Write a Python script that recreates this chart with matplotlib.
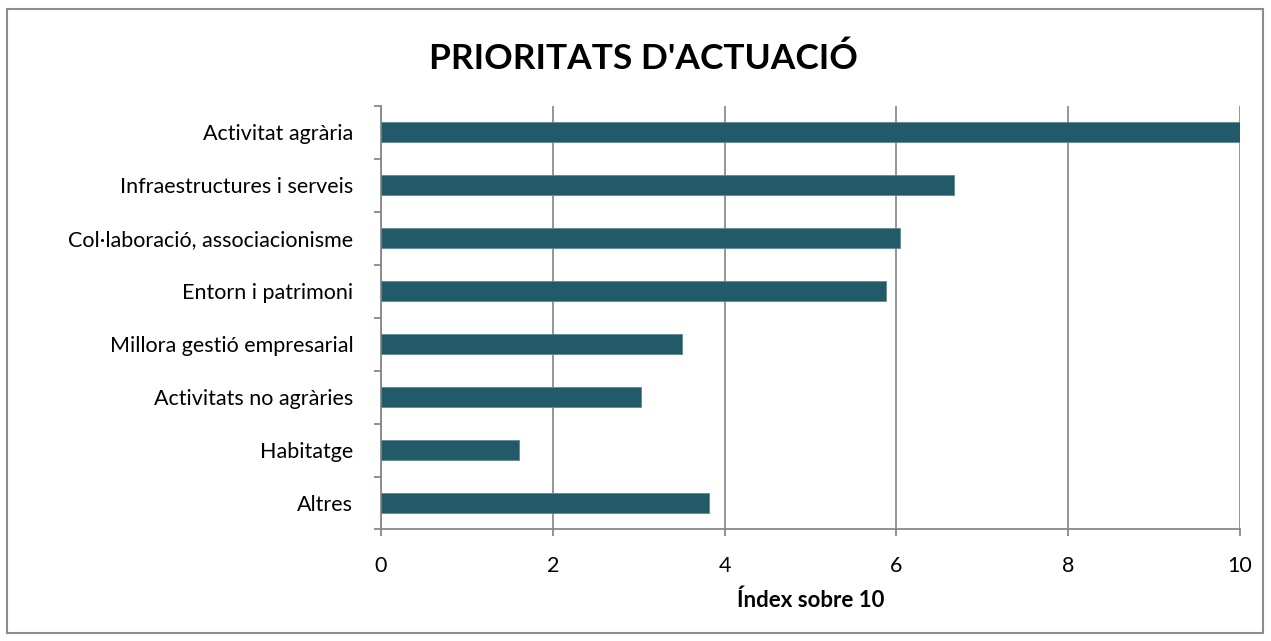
import matplotlib.pyplot as plt
from matplotlib.patches import Rectangle
import numpy as np

plt.rcParams['font.family'] = ['Lato', 'DejaVu Sans']

# categories (top to bottom) and index values
categories = ['Activitat agrària', 'Infraestructures i serveis',
              'Col·laboració, associacionisme', 'Entorn i patrimoni',
              'Millora gestió empresarial', 'Activitats no agràries',
              'Habitatge', 'Altres']
values = [10.0, 6.67, 6.04, 5.88, 3.50, 3.03, 1.61, 3.82]
xticks = [0, 2, 4, 6, 8, 10]

fig = plt.figure(figsize=(12.71, 6.41), dpi=100)
ax = fig.add_axes([0.2998, 0.174, 0.6758, 0.661])

ypos = np.arange(len(categories))
ax.barh(ypos, values, height=0.38, color='#235A69', edgecolor='#5f8a96',
        linewidth=0.6, zorder=3)

ax.set_xlim(0, 10)
ax.set_ylim(len(categories) - 0.5, -0.5)
ax.set_xticks(xticks)
ax.set_xticklabels([str(t) for t in xticks], fontsize=15.5)
ax.set_yticks(ypos)
ax.set_yticklabels(categories, fontsize=15.5)
ax.set_yticks(np.arange(-0.5, len(categories)), minor=True)

ax.tick_params(axis='y', which='major', length=0, pad=20)
ax.tick_params(axis='y', which='minor', length=5, direction='out', color='#888888', width=1.3)
ax.tick_params(axis='x', which='major', length=5, direction='out', color='#888888', width=1.3, pad=14)

ax.grid(axis='x', color='#8c8c8c', linewidth=1.3, zorder=0)
for side in ['top', 'right']:
    ax.spines[side].set_visible(False)
for side in ['left', 'bottom']:
    ax.spines[side].set_color('#888888')
    ax.spines[side].set_linewidth(1.3)

ax.set_xlabel('Índex sobre 10', fontsize=16, fontweight='bold', labelpad=10)
fig.text(0.5065, 0.909, "PRIORITATS D'ACTUACIÓ", fontsize=25.5, fontweight='bold',
         ha='center', va='center')

# outer chart border
fig.add_artist(Rectangle((0.0055, 0.012), 0.988, 0.974, transform=fig.transFigure,
                         fill=False, edgecolor='#8c8c8c', linewidth=1.5))

fig.savefig('out.png', dpi=100)
